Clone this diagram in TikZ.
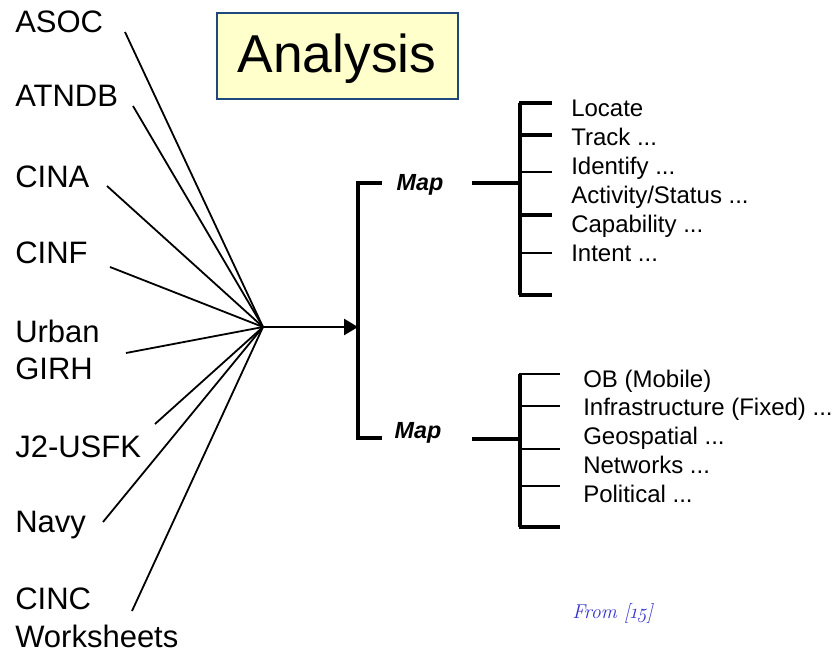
\documentclass[tikz,border=0pt]{standalone}
\usepackage{fontspec}
\setmainfont{Liberation Sans}
\newfontfamily\fromfont{Latin Modern Roman}
\usetikzlibrary{arrows.meta}
\definecolor{boxfill}{RGB}{255,255,204}
\definecolor{boxline}{RGB}{31,73,125}
\definecolor{fromblue}{RGB}{51,51,204}
\tikzset{
  src/.style={anchor=base west,inner sep=0pt,font=\fontsize{23.25}{28.1}\selectfont},
  srctwo/.style={anchor=north west,inner sep=0pt,align=left,font=\fontsize{23.25}{28.1}\selectfont},
  item/.style={anchor=base west,inner sep=0pt,font=\fontsize{18}{21.6}\selectfont},
  maplbl/.style={inner sep=0pt,font=\fontsize{17.5}{20}\selectfont\bfseries\itshape},
  fan/.style={line width=1.35pt},
  bar/.style={line width=2.6pt},
  thicktick/.style={line width=2.6pt},
  medtick/.style={line width=1.8pt},
  thintick/.style={line width=1.1pt},
}
\begin{document}
\begin{tikzpicture}[x=0.75pt,y=-0.75pt]
\useasboundingbox (0,0) rectangle (837,652);
% title
\node[draw=boxline,line width=1.3pt,fill=boxfill,minimum width=180.75pt,minimum height=64.5pt,inner sep=0pt] (title) at (337.5,56) {};
\node[inner sep=0pt,font=\fontsize{40}{44}\selectfont] (titletext) at (337,59) {Analysis};
% sources
\node[src] (asoc) at (15,33) {ASOC};
\node[src] (atndb) at (15,107) {ATNDB};
\node[src] (cina) at (15,188) {CINA};
\node[src] (cinf) at (15,263) {CINF};
\node[srctwo] (urban) at (15,319.5) {Urban\\GIRH};
\node[src] (j2) at (15,457) {J2-USFK};
\node[src] (navy) at (15,532) {Navy};
\node[srctwo] (cinc) at (15,588) {CINC\\Worksheets};
% line start points
\coordinate (asocE) at (125,32);
\coordinate (atndbE) at (133,106);
\coordinate (cinaE) at (107,186);
\coordinate (cinfE) at (110,267);
\coordinate (urbanE) at (126,353);
\coordinate (j2E) at (155,424);
\coordinate (navyE) at (103,522);
\coordinate (cincE) at (132,611);
\coordinate (hub) at (263,327);
\foreach \s in {asocE,atndbE,cinaE,cinfE,urbanE,j2E,navyE,cincE}
  \draw[fan] (\s) -- (hub);
% main arrow and left bracket
\coordinate (barmid) at (358,327);
\draw[line width=2pt,-{Triangle[length=10.5pt,width=12pt]}] (hub) -- (barmid);
\coordinate (lbTop) at (382,183);
\coordinate (lbBot) at (382,438);
\draw[bar] (lbTop) -| (358,438) -- (lbBot);
% map nodes
\node[maplbl] (map1) at (420,185) {Map};
\node[maplbl] (map2) at (418,433) {Map};
% top branch
\coordinate (m1a) at (472,183);
\coordinate (m1b) at (520,183);
\draw[bar] (m1a) -- (m1b);
\draw[bar] (520,103) -- (520,295);
\coordinate (t1) at (552,103);
\coordinate (t2) at (552,135);
\coordinate (t3) at (552,172);
\coordinate (t4) at (552,215);
\coordinate (t5) at (552,253);
\coordinate (t6) at (552,295);
\draw[thicktick] (519,103) -- (t1);
\draw[thicktick] (519,135) -- (t2);
\draw[thintick] (519,172) -- (t3);
\draw[thicktick] (519,215) -- (t4);
\draw[thintick] (519,253) -- (t5);
\draw[thicktick] (519,295) -- (t6);
\node[item] (locate) at (571,117) {Locate};
\node[item] (track) at (571,145.8) {Track ...};
\node[item] (ident) at (571,174.6) {Identify ...};
\node[item] (activ) at (571,203.4) {Activity/Status ...};
\node[item] (capab) at (571,232.2) {Capability ...};
\node[item] (intent) at (571,261) {Intent ...};
% bottom branch
\coordinate (m2a) at (472,439);
\coordinate (m2b) at (520,439);
\draw[bar] (m2a) -- (m2b);
\draw[bar] (520,374) -- (520,527);
\coordinate (b1) at (560,374);
\coordinate (b2) at (560,406);
\coordinate (b3) at (560,449);
\coordinate (b4) at (560,486);
\coordinate (b5) at (560,527);
\draw[medtick] (519,374) -- (b1);
\draw[medtick] (519,406) -- (b2);
\draw[medtick] (519,449) -- (b3);
\draw[medtick] (519,486) -- (b4);
\draw[thicktick] (519,527) -- (b5);
\node[item] (ob) at (583,387) {OB (Mobile)};
\node[item] (infra) at (583,415.8) {Infrastructure (Fixed) ...};
\node[item] (geo) at (583,444.6) {Geospatial ...};
\node[item] (netw) at (583,473.4) {Networks ...};
\node[item] (polit) at (583,502.2) {Political ...};
% source note
\node[anchor=west,inner sep=0pt,text=fromblue,font=\fontsize{15}{17}\fromfont\itshape] (from) at (572,613) {From [\oldstylenums{15}]};
\end{tikzpicture}
\end{document}
